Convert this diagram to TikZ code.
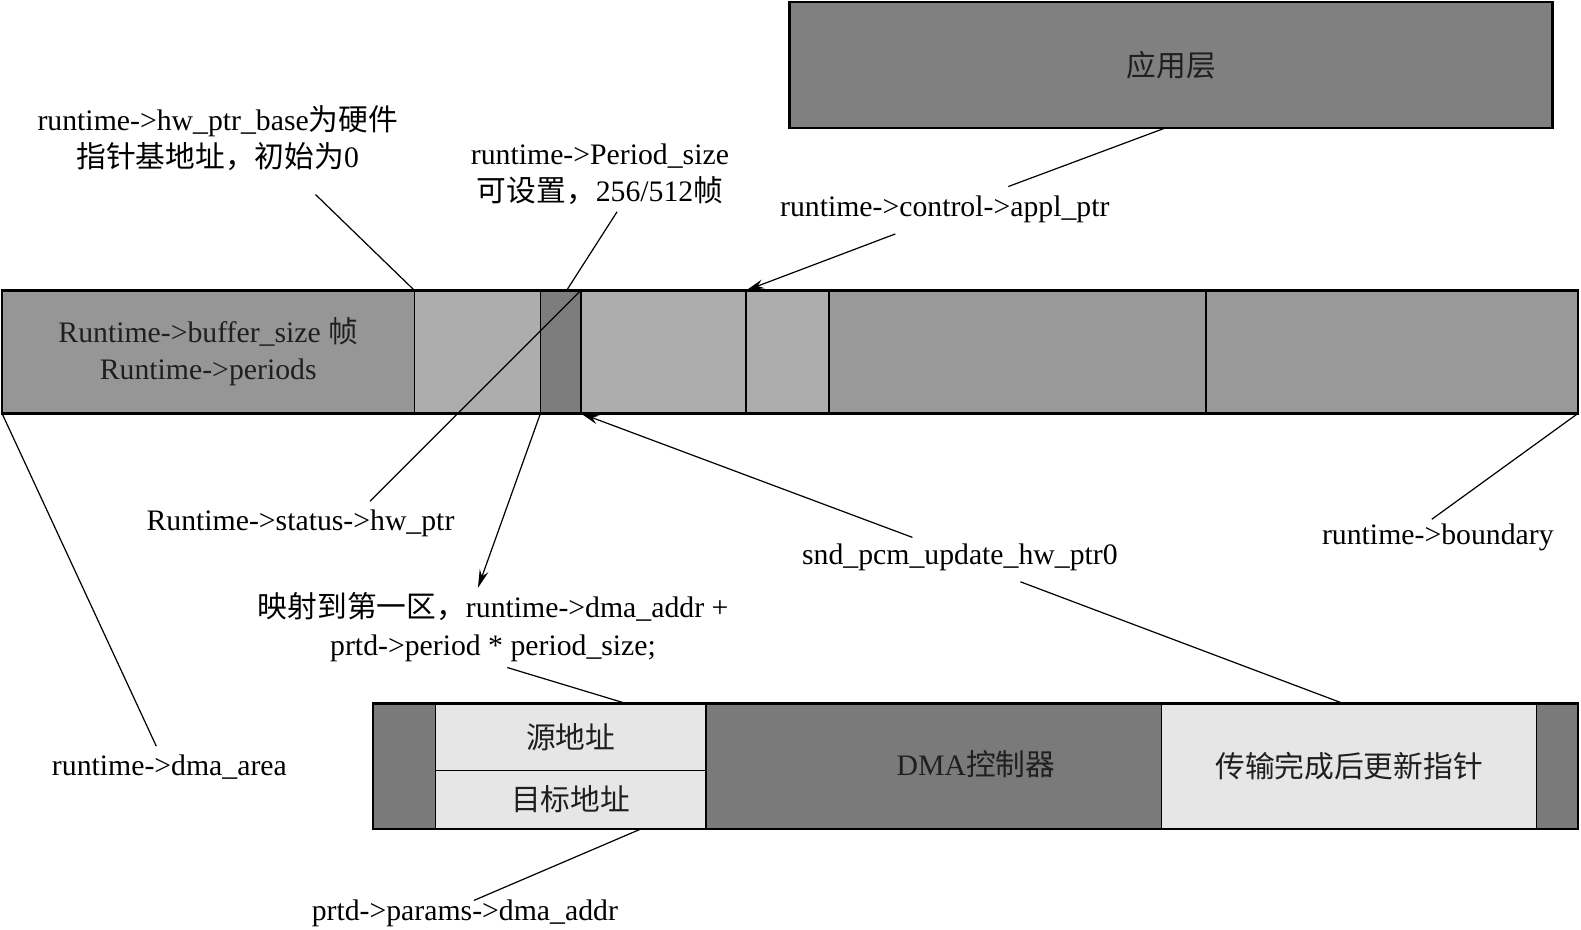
\documentclass[tikz,border=0pt]{standalone}
\usepackage{fontspec}
\setmainfont{Liberation Serif}
\newfontfamily\cjk{Noto Sans CJK SC}
\usepackage{tikz}
\usetikzlibrary{arrows.meta,positioning,calc}
\definecolor{appgray}{HTML}{808080}
\definecolor{bargray}{HTML}{969696}
\definecolor{palebar}{HTML}{ADADAD}
\definecolor{darkbar}{HTML}{7D7D7D}
\definecolor{midbar}{HTML}{999999}
\definecolor{dmadark}{HTML}{7A7A7A}
\definecolor{dmalight}{HTML}{E6E6E6}
\definecolor{boxtext}{HTML}{1F1F1F}
\tikzset{
  >={Stealth[length=18pt,width=9pt]},
  seg/.style={draw, line width=1.6pt, outer sep=0pt, minimum height=122pt, inner sep=0pt, align=center, text=boxtext},
  dseg/.style={draw, line width=1.6pt, outer sep=0pt, inner sep=0pt, align=center, text=boxtext},
  lbl/.style={align=center, inner sep=0pt},
  lead/.style={line width=1.2pt},
  rim/.style={line width=2.6pt},
}
\begin{document}
\begin{tikzpicture}[x=1pt, y=-1pt, every node/.style={font=\fontsize{29.5}{37}\selectfont}]
  \useasboundingbox (0,0) rectangle (1568,922);
  % application layer
  \node[seg, fill=appgray, minimum width=757pt, minimum height=125pt, anchor=north west] (app) at (783,2) {\cjk 应用层};
  % ring buffer
  \node[seg, fill=bargray, minimum width=409pt, anchor=north west] (b1) at (2,288) {Runtime->buffer\_size {\cjk 帧}\\Runtime->periods};
  \node[seg, fill=palebar, minimum width=125pt, right=0pt of b1] (b2) {};
  \node[seg, fill=darkbar, minimum width=40pt, right=0pt of b2] (b3) {};
  \node[seg, fill=palebar, minimum width=164pt, right=0pt of b3] (b4) {};
  \node[seg, fill=palebar, minimum width=82pt, right=0pt of b4] (b5) {};
  \node[seg, fill=midbar, minimum width=374pt, right=0pt of b5] (b6) {};
  \node[seg, fill=midbar, minimum width=369pt, right=0pt of b6] (b7) {};
  % DMA
  \node[dseg, fill=dmadark, minimum width=62pt, minimum height=124pt, anchor=north west] (d1) at (370,698) {};
  \node[dseg, fill=dmalight, minimum width=268pt, minimum height=66pt, anchor=north west] (d2a) at (d1.north east) {\cjk 源地址};
  \node[dseg, fill=dmalight, minimum width=268pt, minimum height=58pt, anchor=north west] (d2b) at (d2a.south west) {\cjk 目标地址};
  \node[dseg, fill=dmadark, minimum width=452pt, minimum height=124pt, anchor=north west] (d3) at (d2a.north east) {};
  \node[text=boxtext] (dmac) at (968,758) {DMA{\cjk 控制器}};
  \node[dseg, fill=dmalight, minimum width=372pt, minimum height=124pt, anchor=north west] (d4) at (d3.north east) {\cjk 传输完成后更新指针};
  \node[dseg, fill=dmadark, minimum width=41pt, minimum height=124pt, anchor=north west] (d5) at (d4.north east) {};
  % heavier rims
  \draw[rim] (app.north west) rectangle (app.south east);
  \draw[rim] (b1.north west) rectangle (b7.south east);
  \draw[rim] (d1.north west) rectangle (d5.south east);
  % labels
  \node[lbl] (lbase) at (216,137) {runtime->hw\_ptr\_base{\cjk 为硬件}\\{\cjk 指针基地址，初始为}0};
  \node[lbl] (lperiod) at (595,173) {runtime->Period\_size\\{\cjk 可设置，}256/512{\cjk 帧}};
  \node[lbl] (lappl) at (937,208) {runtime->control->appl\_ptr};
  \node[lbl] (lstatus) at (298,519) {Runtime->status->hw\_ptr};
  \node[lbl] (lupdate) at (952,553) {snd\_pcm\_update\_hw\_ptr0};
  \node[lbl] (lbound) at (1426,533) {runtime->boundary};
  \node[lbl] (lmap) at (489,622) {{\cjk 映射到第一区，}runtime->dma\_addr +\\prtd->period * period\_size;};
  \node[lbl] (larea) at (168,761) {runtime->dma\_area};
  \node[lbl] (lparams) at (461,906) {prtd->params->dma\_addr};
  % free ends
  \coordinate (base-end) at (313,193);
  \coordinate (period-end) at (612,210);
  \coordinate (status-end) at (367,497);
  \coordinate (appl-low) at (888,232);
  \coordinate (appl-up) at (1000,185);
  \coordinate (upd-up) at (905,533);
  \coordinate (upd-low) at (1012,577);
  \coordinate (map-up) at (474,583);
  \coordinate (map-low) at (503,662);
  \coordinate (area-end) at (155,740);
  \coordinate (bound-end) at (1420,515);
  \coordinate (params-end) at (470,893);
  % connectors
  \draw[lead] (base-end) -- (b2.north west);
  \draw[lead] (period-end) -- ($(b3.north)+(6,0)$);
  \draw[lead] (status-end) -- (b3.north east);
  \draw[lead, ->] (appl-low) -- (b5.north west);
  \draw[lead] (appl-up) -- ($(app.south)+(-6,0)$);
  \draw[lead, ->] (upd-up) -- (b4.south west);
  \draw[lead] (upd-low) -- ($(d4.north)+(-5,0)$);
  \draw[lead, ->] (b3.south west) -- (map-up);
  \draw[lead] (map-low) -- ($(d2a.north)+(56,0)$);
  \draw[lead] (b1.south west) -- (area-end);
  \draw[lead] (b7.south east) -- (bound-end);
  \draw[lead] ($(d2b.south)+(70,0)$) -- (params-end);
\end{tikzpicture}
\end{document}
